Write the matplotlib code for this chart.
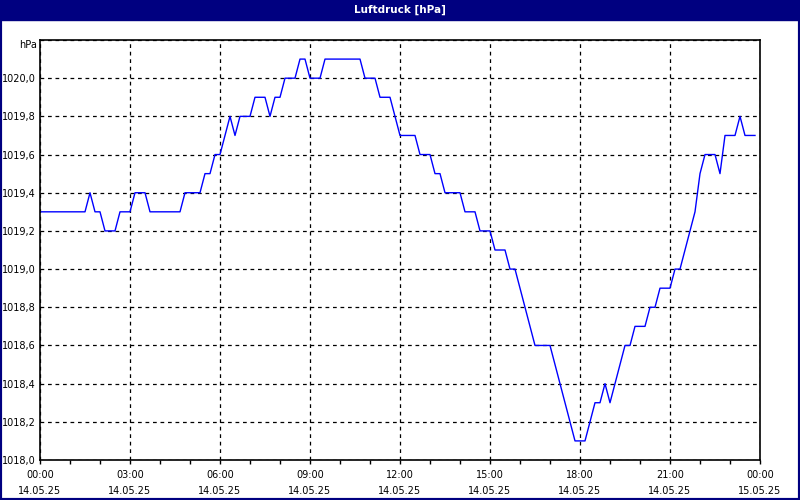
import numpy as np
import matplotlib
matplotlib.use('Agg')
import matplotlib.pyplot as plt
import matplotlib.dates as mdates
import matplotlib.transforms as mtransforms
from matplotlib.patches import Rectangle
import pandas as pd

# Luftdruck, 10-Minuten-Werte ab 14.05.25 00:00
druck = [
    1019.3, 1019.3, 1019.3, 1019.3, 1019.3, 1019.3,   # 00h
    1019.3, 1019.3, 1019.3, 1019.3, 1019.4, 1019.3,   # 01h
    1019.3, 1019.2, 1019.2, 1019.2, 1019.3, 1019.3,   # 02h
    1019.3, 1019.4, 1019.4, 1019.4, 1019.3, 1019.3,   # 03h
    1019.3, 1019.3, 1019.3, 1019.3, 1019.3, 1019.4,   # 04h
    1019.4, 1019.4, 1019.4, 1019.5, 1019.5, 1019.6,   # 05h
    1019.6, 1019.7, 1019.8, 1019.7, 1019.8, 1019.8,   # 06h
    1019.8, 1019.9, 1019.9, 1019.9, 1019.8, 1019.9,   # 07h
    1019.9, 1020.0, 1020.0, 1020.0, 1020.1, 1020.1,   # 08h
    1020.0, 1020.0, 1020.0, 1020.1, 1020.1, 1020.1,   # 09h
    1020.1, 1020.1, 1020.1, 1020.1, 1020.1, 1020.0,   # 10h
    1020.0, 1020.0, 1019.9, 1019.9, 1019.9, 1019.8,   # 11h
    1019.7, 1019.7, 1019.7, 1019.7, 1019.6, 1019.6,   # 12h
    1019.6, 1019.5, 1019.5, 1019.4, 1019.4, 1019.4,   # 13h
    1019.4, 1019.3, 1019.3, 1019.3, 1019.2, 1019.2,   # 14h
    1019.2, 1019.1, 1019.1, 1019.1, 1019.0, 1019.0,   # 15h
    1018.9, 1018.8, 1018.7, 1018.6, 1018.6, 1018.6,   # 16h
    1018.6, 1018.5, 1018.4, 1018.3, 1018.2, 1018.1,   # 17h
    1018.1, 1018.1, 1018.2, 1018.3, 1018.3, 1018.4,   # 18h
    1018.3, 1018.4, 1018.5, 1018.6, 1018.6, 1018.7,   # 19h
    1018.7, 1018.7, 1018.8, 1018.8, 1018.9, 1018.9,   # 20h
    1018.9, 1019.0, 1019.0, 1019.1, 1019.2, 1019.3,   # 21h
    1019.5, 1019.6, 1019.6, 1019.6, 1019.5, 1019.7,   # 22h
    1019.7, 1019.7, 1019.8, 1019.7, 1019.7, 1019.7,   # 23h
]
zeit = pd.date_range('2025-05-14 00:00', periods=len(druck), freq='10min')

y_ticks = [1018.0, 1018.2, 1018.4, 1018.6, 1018.8, 1019.0,
           1019.2, 1019.4, 1019.6, 1019.8, 1020.0, 1020.2]
y_labels = ['1018,0', '1018,2', '1018,4', '1018,6', '1018,8', '1019,0',
            '1019,2', '1019,4', '1019,6', '1019,8', '1020,0', '']
x_ticks = pd.date_range('2025-05-14 00:00', '2025-05-15 00:00', freq='3h')

navy = '#000080'

fig = plt.figure(figsize=(8, 5), dpi=100, facecolor='white')
# Rahmen und Titelleiste
fig.patches.append(Rectangle((0, 0), 1, 1, transform=fig.transFigure,
                             fill=False, edgecolor=navy, linewidth=3, zorder=0))
fig.patches.append(Rectangle((0, 0.96), 1, 0.04, transform=fig.transFigure,
                             facecolor=navy, edgecolor=navy, zorder=0))
fig.text(0.5, 0.98, 'Luftdruck [hPa]', color='white', fontsize=7.5,
         fontweight='bold', ha='center', va='center')

ax = fig.add_axes([0.05, 0.08, 0.90, 0.84])
ax.plot(zeit, druck, color='#0000ff', linewidth=1)

ax.set_xlim(x_ticks[0], x_ticks[-1])
ax.set_ylim(1018.0, 1020.2)
ax.set_yticks(y_ticks)
ax.set_yticklabels(y_labels)
ax.set_xticks(x_ticks)
ax.set_xticklabels([t.strftime('%H:%M') + '\n' + t.strftime('%d.%m.%y') for t in x_ticks],
                   linespacing=1.75)
ax.xaxis.set_minor_locator(mdates.HourLocator())

# Einheit oben an der y-Achse
trans = mtransforms.blended_transform_factory(ax.transAxes, ax.transData)
ax.text(-0.004, 1020.2, 'hPa', transform=trans, ha='right', va='top', fontsize=7)

ax.grid(True, which='major', color='black', linestyle=(0, (3, 3)), linewidth=0.9)
ax.tick_params(axis='y', length=0, labelsize=7, pad=3)
ax.tick_params(axis='x', which='both', direction='out', length=3, width=1,
               labelsize=7, pad=4)
for s in ax.spines.values():
    s.set_linewidth(1.2)

plt.savefig('out.png', dpi=100, facecolor='white')
